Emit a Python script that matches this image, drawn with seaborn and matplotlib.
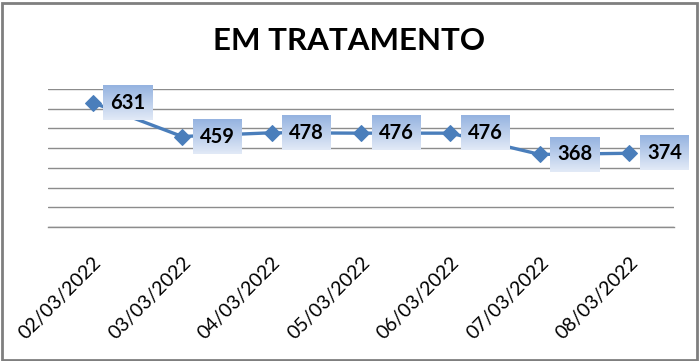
import numpy as np
import pandas as pd
import matplotlib
matplotlib.use("Agg")
import matplotlib.pyplot as plt
import seaborn as sns
from matplotlib.patches import Rectangle
from matplotlib.colors import LinearSegmentedColormap

dates = ["02/03/2022", "03/03/2022", "04/03/2022", "05/03/2022",
         "06/03/2022", "07/03/2022", "08/03/2022"]
values = [631, 459, 478, 476, 476, 368, 374]
title = "EM TRATAMENTO"

sns.set_theme(style="white")
plt.rcParams["font.family"] = ["Lato", "DejaVu Sans"]

df = pd.DataFrame({"date": dates, "value": values, "x": range(len(dates))})

W, H, DPI = 699, 361, 100
fig = plt.figure(figsize=(W / DPI, H / DPI), dpi=DPI)
fig.patch.set_facecolor("white")
# outer border
fig.add_artist(Rectangle((1.5 / W, 1.5 / H), 1 - 4 / W, 1 - 4 / H,
                         transform=fig.transFigure, fill=False,
                         edgecolor="#7f7f7f", linewidth=2.0))

ax = fig.add_axes([48 / W, 1 - 227 / H, (674 - 48) / W, (227 - 89) / H])
line_color = "#4A7EBB"
sns.lineplot(data=df, x="x", y="value", ax=ax, color=line_color,
             linewidth=2.4, marker="D", markersize=8.5,
             markeredgecolor=line_color, zorder=3)

ax.set_xlim(-0.5, len(dates) - 0.5)
ax.set_ylim(0, 700)
ax.set_yticks(np.arange(0, 701, 100))
ax.set_yticklabels([])
ax.tick_params(axis="y", length=0)
ax.grid(axis="y", color="#8c8c8c", linewidth=1.0)
ax.set_axisbelow(True)
for s in ["left", "right", "top"]:
    ax.spines[s].set_visible(False)
ax.spines["bottom"].set_color("#8c8c8c")
ax.spines["bottom"].set_linewidth(1.0)

# ticks between categories
ax.set_xticks(np.arange(-0.5, len(dates), 1.0))
ax.set_xticklabels([])
ax.tick_params(axis="x", which="major", direction="out", length=5,
               color="#8c8c8c", width=1.0)
ax.set_xticks(np.arange(len(dates)), minor=True)
ax.set_xticklabels(dates, minor=True, rotation=45, ha="right",
                   rotation_mode="anchor", fontsize=14, color="black")
ax.tick_params(axis="x", which="minor", length=0, pad=19)
ax.set_xlabel("")
ax.set_ylabel("")

fig.text(0.5, 1 - 41 / H, title, ha="center", va="center",
         fontsize=22.5, fontweight="bold", color="black")

# data labels
texts = []
for xi, v in zip(df["x"], df["value"]):
    t = ax.annotate(str(v), (xi, v), xytext=(35, 0), textcoords="offset pixels",
                    ha="center", va="center", fontsize=14.5, fontweight="bold",
                    color="black", zorder=6,
                    bbox=dict(boxstyle="square,pad=0.35", facecolor="none",
                              edgecolor="none"))
    texts.append(t)

fig.canvas.draw()
cmap = LinearSegmentedColormap.from_list("g", ["#E2EAF7", "#95B3E0"])
grad = np.linspace(0, 1, 64).reshape(-1, 1)
inv = ax.transData.inverted()
for t in texts:
    bb = t.get_bbox_patch().get_window_extent()
    x0, y0 = inv.transform((bb.x0, bb.y0))
    x1, y1 = inv.transform((bb.x1, bb.y1))
    ax.imshow(grad, cmap=cmap, extent=(x0, x1, y0, y1), origin="lower",
              aspect="auto", zorder=5, interpolation="bilinear", clip_on=False)

ax.set_xlim(-0.5, len(dates) - 0.5)
ax.set_ylim(0, 700)

fig.savefig("out.png", dpi=DPI)
